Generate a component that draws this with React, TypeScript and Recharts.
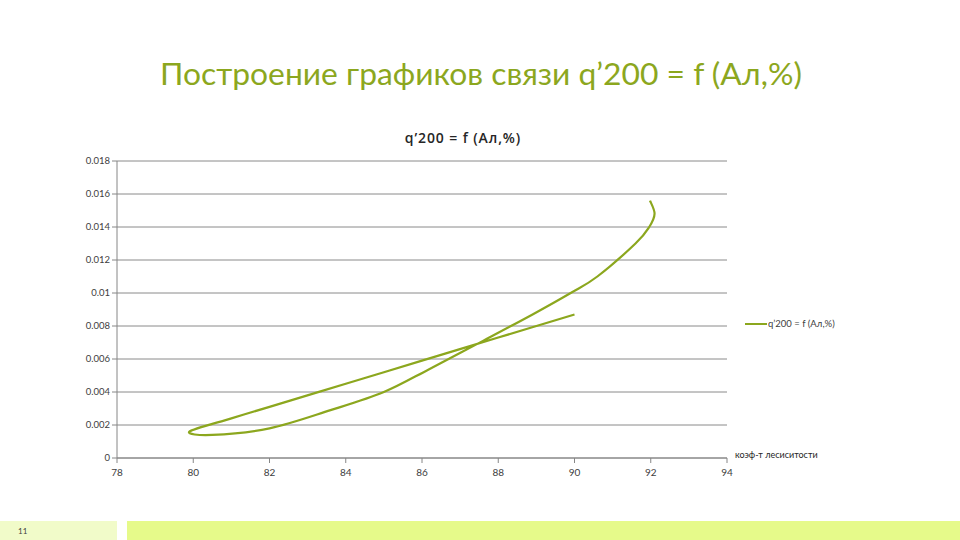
import React from "react";
import {
  LineChart,
  Line,
  XAxis,
  YAxis,
  CartesianGrid,
  Legend,
} from "recharts";

// points, in drawing order
const alPercent = [90.0, 88.0, 86.0, 84.0, 82.0, 81.0, 79.9, 80.5, 82.0, 83.6, 85.0, 86.2, 87.6, 88.9, 89.9, 90.6, 91.6, 91.96, 92.1, 91.98];
const q200 = [0.0087, 0.0073, 0.0059, 0.0045, 0.0031, 0.0024, 0.0016, 0.0014, 0.0018, 0.0029, 0.004, 0.0054, 0.0071, 0.0087, 0.01, 0.011, 0.013, 0.014, 0.0148, 0.0156];

const xTicks = [78, 80, 82, 84, 86, 88, 90, 92, 94];
const yTicks = [0, 0.002, 0.004, 0.006, 0.008, 0.01, 0.012, 0.014, 0.016, 0.018];

const seriesName = "q’200 = f (Ал,%)";
const slideTitle = "Построение графиков связи q’200 = f (Ал,%)";
const xAxisTitle = "коэф-т лесиситости";

const GREEN = "#8ca71e";
const FONT = "Lato, 'Open Sans', sans-serif";

const data = alPercent.map((x, i) => ({ x, q: q200[i] }));

// excel-style smoothing: bezier through every point, tangents from neighbours / 6
function excelSmooth(context: any) {
  let pts: number[][] = [];
  return {
    areaStart() {},
    areaEnd() {},
    lineStart() {
      pts = [];
    },
    lineEnd() {
      if (!pts.length) return;
      context.moveTo(pts[0][0], pts[0][1]);
      for (let i = 0; i < pts.length - 1; i++) {
        const p0 = pts[Math.max(i - 1, 0)];
        const p1 = pts[i];
        const p2 = pts[i + 1];
        const p3 = pts[Math.min(i + 2, pts.length - 1)];
        context.bezierCurveTo(
          p1[0] + (p2[0] - p0[0]) / 6,
          p1[1] + (p2[1] - p0[1]) / 6,
          p2[0] - (p3[0] - p1[0]) / 6,
          p2[1] - (p3[1] - p1[1]) / 6,
          p2[0],
          p2[1]
        );
      }
    },
    point(x: number, y: number) {
      pts.push([+x, +y]);
    },
  };
}

const LegendBox = () => (
  <div style={{ display: "flex", alignItems: "center", fontFamily: FONT, fontSize: 9.5, color: "#404040" }}>
    <svg width={22} height={8}>
      <line x1={0} y1={4} x2={22} y2={4} stroke={GREEN} strokeWidth={2} />
    </svg>
    <span style={{ marginLeft: 1, whiteSpace: "nowrap" }}>{seriesName}</span>
  </div>
);

export default function App() {
  return (
    <div style={{ position: "absolute", left: 0, top: 0, width: 960, height: 540, background: "#fff", overflow: "hidden" }}>
      <div
        style={{
          position: "absolute",
          left: 0,
          top: 54,
          width: 962,
          textAlign: "center",
          fontFamily: FONT,
          fontSize: 31.8,
          color: GREEN,
          whiteSpace: "nowrap",
        }}
      >
        {slideTitle}
      </div>
      <div
        style={{
          position: "absolute",
          left: 0,
          top: 128,
          width: 926,
          textAlign: "center",
          fontFamily: "'Open Sans', sans-serif",
          fontSize: 14,
          fontWeight: 600,
          letterSpacing: 0.9,
          color: "#262626",
        }}
      >
        {seriesName}
      </div>

      <LineChart
        width={960}
        height={540}
        data={data}
        margin={{ top: 161, right: 233, bottom: 52, left: 67 }}
        style={{ position: "absolute", left: 0, top: 0 }}
      >
        <CartesianGrid vertical={false} stroke="#8a8a8a" />
        <XAxis
          type="number"
          dataKey="x"
          domain={[78, 94]}
          ticks={xTicks}
          interval={0}
          height={30}
          stroke="#868686"
          tickSize={5}
          tickMargin={6}
          tick={{ fontSize: 10, fill: "#404040", fontFamily: FONT }}
        />
        <YAxis
          type="number"
          domain={[0, 0.018]}
          ticks={yTicks}
          interval={0}
          width={50}
          stroke="#868686"
          tickSize={5}
          tickFormatter={(v) => String(v)}
          tick={{ fontSize: 9.5, fill: "#404040", fontFamily: FONT }}
        />
        <Legend
          layout="vertical"
          align="center"
          verticalAlign="middle"
          content={<LegendBox />}
          wrapperStyle={{ left: 745, top: 318, width: 120 }}
        />
        <Line
          name={seriesName}
          dataKey="q"
          type={excelSmooth as any}
          stroke={GREEN}
          strokeWidth={2.2}
          dot={false}
          activeDot={false}
          isAnimationActive={false}
        />
      </LineChart>

      <div
        style={{
          position: "absolute",
          left: 735,
          top: 449,
          fontFamily: FONT,
          fontSize: 9,
          color: "#262626",
          whiteSpace: "nowrap",
        }}
      >
        {xAxisTitle}
      </div>

      <div style={{ position: "absolute", left: 0, top: 521, width: 117, height: 19, background: "#f1fbc9" }} />
      <div style={{ position: "absolute", left: 127, top: 521, width: 833, height: 19, background: "#e6fa8a" }} />
      <div style={{ position: "absolute", left: 18, top: 526, fontFamily: FONT, fontSize: 8, color: "#404040" }}>11</div>
    </div>
  );
}
